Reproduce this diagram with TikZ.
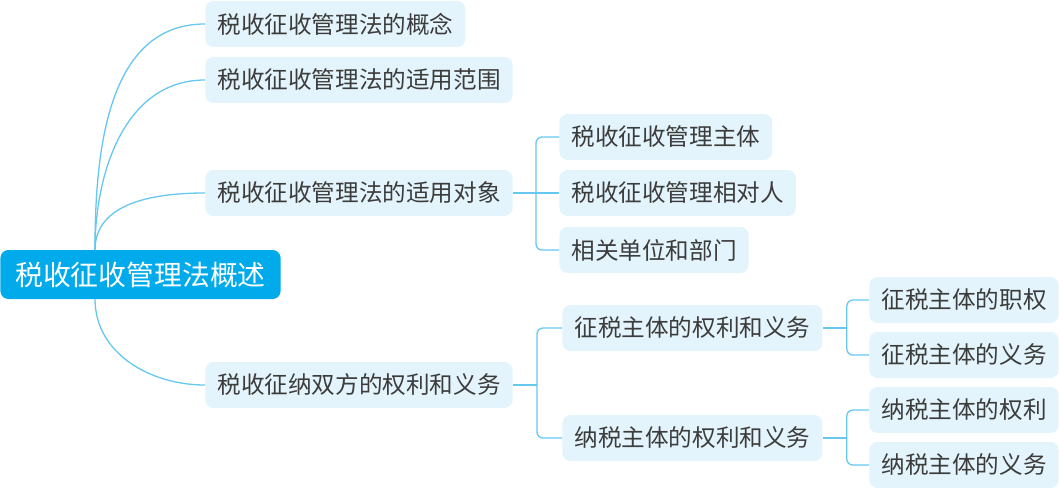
\documentclass[tikz,border=0pt]{standalone}
\usepackage{fontspec}
\newfontfamily\cjk{Noto Sans CJK SC}
\definecolor{linecol}{HTML}{66C7F0}
\definecolor{boxcol}{HTML}{E3F4FC}
\definecolor{rootcol}{HTML}{00AAEB}
\definecolor{txtcol}{HTML}{3C3C3C}
\tikzset{
  topic/.style={fill=boxcol, text=txtcol, rounded corners=4pt, font=\cjk\fontsize{11.8pt}{14pt}\selectfont,
    inner xsep=6pt, inner ysep=0pt, minimum height=23pt, anchor=west},
  roottopic/.style={fill=rootcol, text=white, rounded corners=4pt, font=\cjk\fontsize{13.9pt}{16pt}\selectfont,
    inner xsep=7.5pt, inner ysep=0pt, minimum height=24.5pt, anchor=west},
  link/.style={draw=linecol, line width=0.65pt},
  brace/.style={link, rounded corners=3pt}
}
\begin{document}
\begin{tikzpicture}[x=0.5pt, y=-0.5pt]
\useasboundingbox (0,0) rectangle (1059,492);
\node[roottopic] (n0) at (0,274.5){税收征收管理法概述};
\coordinate (r0) at (95,250);
\coordinate (r1) at (95,299);
\node[topic] (n1) at (205,24){税收征收管理法的概念};
\node[topic] (n2) at (205,80){税收征收管理法的适用范围};
\node[topic] (n3) at (205,193){税收征收管理法的适用对象};
\node[topic] (n4) at (205,385){税收征纳双方的权利和义务};
\draw[link] (r0) to[out=90, in=180] (n1.west);
\draw[link] (r0) to[out=90, in=180] (n2.west);
\draw[link] (r0) to[out=90, in=180] (n3.west);
\draw[link] (r1) to[out=-90, in=180] (n4.west);
\node[topic] (n31) at (559,137){税收征收管理主体};
\node[topic] (n32) at (559,193){税收征收管理相对人};
\node[topic] (n33) at (559,250){相关单位和部门};
\draw[link] (n3.east) -- (n32.west);
\draw[brace] ([xshift=11.5pt]n3.east) |- (n31.west);
\draw[brace] ([xshift=11.5pt]n3.east) |- (n33.west);
\node[topic] (n41) at (562,328){征税主体的权利和义务};
\node[topic] (n42) at (562,438){纳税主体的权利和义务};
\draw[link] (n4.east) -- ([xshift=12pt]n4.east);
\draw[brace] ([xshift=12pt]n4.east) |- (n41.west);
\draw[brace] ([xshift=12pt]n4.east) |- (n42.west);
\node[topic] (n411) at (869,300){征税主体的职权};
\node[topic] (n412) at (869,355){征税主体的义务};
\draw[link] (n41.east) -- ([xshift=12pt]n41.east);
\draw[brace] ([xshift=12pt]n41.east) |- (n411.west);
\draw[brace] ([xshift=12pt]n41.east) |- (n412.west);
\node[topic] (n421) at (869,410){纳税主体的权利};
\node[topic] (n422) at (869,465){纳税主体的义务};
\draw[link] (n42.east) -- ([xshift=12pt]n42.east);
\draw[brace] ([xshift=12pt]n42.east) |- (n421.west);
\draw[brace] ([xshift=12pt]n42.east) |- (n422.west);
\end{tikzpicture}
\end{document}
